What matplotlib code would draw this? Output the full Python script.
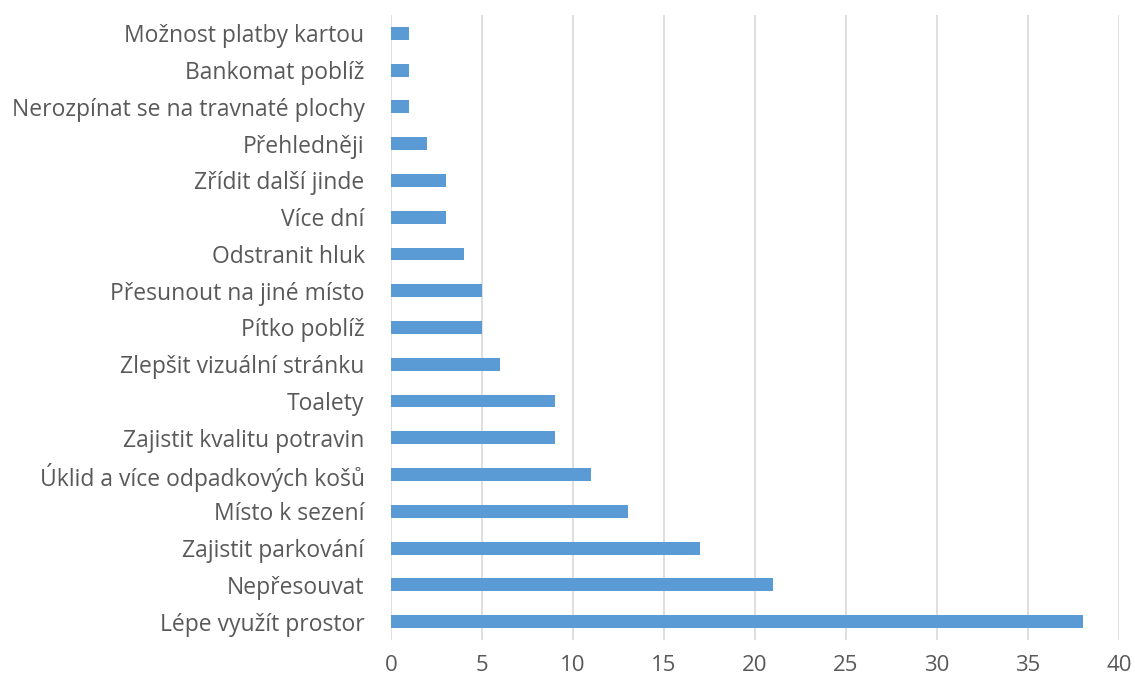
import matplotlib.pyplot as plt

plt.rcParams['font.family'] = ['Open Sans', 'DejaVu Sans']

labels = ['Lépe využít prostor', 'Nepřesouvat', 'Zajistit parkování', 'Místo k sezení',
          'Úklid a více odpadkových košů', 'Zajistit kvalitu potravin', 'Toalety',
          'Zlepšit vizuální stránku', 'Pítko poblíž', 'Přesunout na jiné místo',
          'Odstranit hluk', 'Více dní', 'Zřídit další jinde', 'Přehledněji',
          'Nerozpínat se na travnaté plochy', 'Bankomat poblíž', 'Možnost platby kartou']
values = [38, 21, 17, 13, 11, 9, 9, 6, 5, 5, 4, 3, 3, 2, 1, 1, 1]

fig = plt.figure(figsize=(11.35, 6.81), dpi=100)
ax = fig.add_axes([0.3445, 0.0602, 0.6414, 0.9178])
ax.barh(range(len(values)), values, height=0.35, color='#5B9BD5', zorder=3)
ax.set_ylim(-0.5, len(values) - 0.5)
ax.set_xlim(0, 40)
ax.set_xticks(range(0, 41, 5))
ax.set_yticks(range(len(values)))
ax.set_yticklabels(labels)
ax.grid(axis='x', color='#D9D9D9', linewidth=1.2, zorder=0)
for s in ax.spines.values():
    s.set_visible(False)
ax.tick_params(axis='both', length=0, labelsize=16.5, colors='#595959')
ax.tick_params(axis='y', pad=19)
ax.tick_params(axis='x', pad=11, labelsize=16)
fig.savefig('out.png', dpi=100)
